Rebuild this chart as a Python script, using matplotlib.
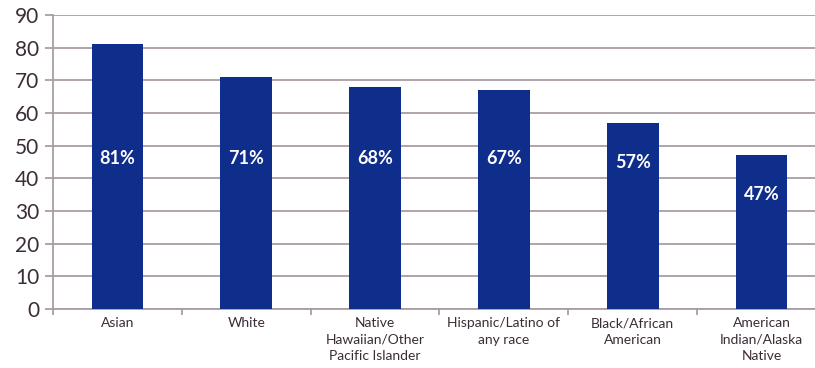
import matplotlib.pyplot as plt
import numpy as np

categories = ['Asian', 'White', 'Native\nHawaiian/Other\nPacific Islander',
              'Hispanic/Latino of\nany race', 'Black/African\nAmerican',
              'American\nIndian/Alaska\nNative']
values = [81, 71, 68, 67, 57, 47]
yticks = [0, 10, 20, 30, 40, 50, 60, 70, 80, 90]

bar_color = '#0f2d8a'
grid_color = '#a99ca6'
text_color = '#3b2c37'

plt.rcParams['font.family'] = ['Lato', 'DejaVu Sans']

fig = plt.figure(figsize=(8.15, 3.68), dpi=100)
ax = fig.add_axes([53 / 815, 1 - 309 / 368, 773 / 815, 294 / 368])

x = np.arange(len(categories))
ax.bar(x, values, width=0.4, color=bar_color, zorder=3)

for xi, v in zip(x, values):
    ax.text(xi, min(46, v - 12), f'{v}%', ha='center', va='center',
            color='white', fontsize=13, fontweight='bold', zorder=4)

ax.set_xlim(-0.5, len(categories) - 0.5)
ax.set_ylim(0, 90)
ax.set_yticks(yticks)
ax.yaxis.grid(True, color=grid_color, linewidth=1.3, zorder=0)
ax.tick_params(axis='y', length=6, color=grid_color, width=1.3,
               labelsize=15, labelcolor=text_color, pad=4)

ax.set_xticks(x)
ax.set_xticklabels(categories, fontsize=10, color=text_color, linespacing=1.45)
ax.tick_params(axis='x', which='major', length=0, pad=6)
ax.set_xticks(np.arange(len(categories) + 1) - 0.5, minor=True)
ax.tick_params(axis='x', which='minor', length=4, color=grid_color, width=1.3)

for side in ['top', 'right']:
    ax.spines[side].set_visible(False)
for side in ['left', 'bottom']:
    ax.spines[side].set_color(grid_color)
    ax.spines[side].set_linewidth(1.3)

fig.savefig('out.png', dpi=100)
